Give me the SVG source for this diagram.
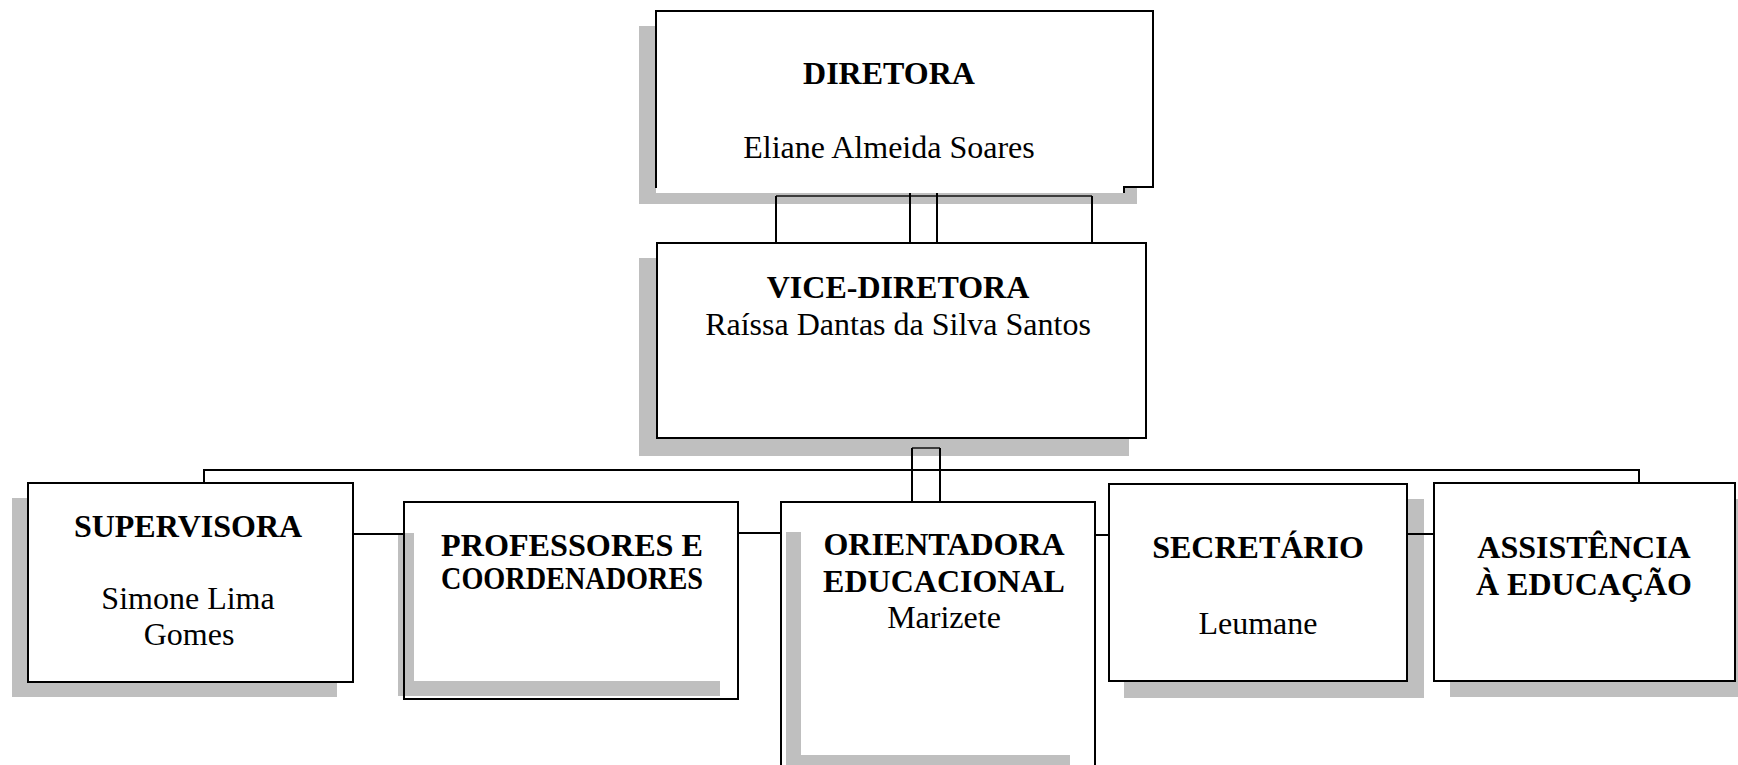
<svg xmlns="http://www.w3.org/2000/svg" width="1738" height="765" viewBox="0 0 1738 765">
<style>
.sh{fill:#bfbfbf}
.bx{fill:#fff;stroke:#000;stroke-width:2}
.wh{fill:#fff}
.ln{fill:none;stroke:#000;stroke-width:2}
.lg{fill:none;stroke:#3c3c3c;stroke-width:2}
text{font-family:"Liberation Serif","Times New Roman",serif;font-size:32px;text-anchor:middle;fill:#000}
.b{font-weight:bold}
</style>
<rect width="1738" height="765" fill="#fff"/>
<g id="diretora">
<rect class="sh" x="639" y="26" width="498" height="178"/>
<rect class="wh" x="656" y="11" width="468" height="182"/>
<rect class="wh" x="1120" y="11" width="33" height="176"/>
<path class="ln" d="M656,188 V11 H1153 V187 H1124 V193"/>
<text class="b" x="889" y="84">DIRETORA</text>
<text x="889" y="158">Eliane Almeida Soares</text>
</g>
<g id="vice-diretora">
<rect class="sh" x="639" y="258" width="490" height="198"/>
<rect class="bx" x="657" y="243" width="489" height="195"/>
<text class="b" x="898" y="298">VICE-DIRETORA</text>
<text x="898" y="335">Raíssa Dantas da Silva Santos</text>
</g>
<g id="supervisora">
<rect class="sh" x="12" y="498" width="325" height="199"/>
<rect class="bx" x="28" y="483" width="325" height="199"/>
<text class="b" x="188" y="537">SUPERVISORA</text>
<text x="188" y="609">Simone Lima</text>
<text x="189" y="645">Gomes</text>
</g>
<g id="professores">
<rect class="wh" x="404" y="502" width="334" height="197"/>
<rect class="sh" x="398" y="533" width="322" height="163"/>
<rect class="wh" x="414" y="503" width="323" height="178"/>
<rect class="ln" x="404" y="502" width="334" height="197"/>
<text class="b" x="572" y="556" font-size="27" textLength="262" lengthAdjust="spacingAndGlyphs">PROFESSORES E</text>
<text class="b" x="572" y="589" font-size="27" textLength="262" lengthAdjust="spacingAndGlyphs">COORDENADORES</text>
</g>
<g id="orientadora">
<rect class="wh" x="781" y="502" width="314" height="280"/>
<rect class="sh" x="786" y="532" width="284" height="250"/>
<rect class="wh" x="801" y="503" width="293" height="252"/>
<rect class="ln" x="781" y="502" width="314" height="280"/>
<text class="b" x="944" y="555">ORIENTADORA</text>
<text class="b" x="944" y="592">EDUCACIONAL</text>
<text x="944" y="628">Marizete</text>
</g>
<g id="secretario">
<rect class="sh" x="1124" y="499" width="300" height="199"/>
<rect class="bx" x="1109" y="484" width="298" height="197"/>
<text class="b" x="1258" y="558">SECRETÁRIO</text>
<text x="1258" y="634">Leumane</text>
</g>
<g id="assistencia">
<rect class="sh" x="1450" y="499" width="300" height="198"/>
<rect class="bx" x="1434" y="483" width="301" height="198"/>
<text class="b" x="1584" y="558">ASSISTÊNCIA</text>
<text class="b" x="1584" y="595">À EDUCAÇÃO</text>
</g>
<g id="connectors">
<path class="lg" d="M776,196 H1092"/>
<path class="ln" d="M776,196 V243 M1092,196 V243 M910,193 V243 M937,193 V243"/>
<path class="lg" d="M912,448 H940"/>
<path class="ln" d="M912,448 V502 M940,448 V502"/>
<path class="ln" d="M204,483 V470 H1639 V483"/>
<path class="ln" d="M353,534 H404 M738,533 H781 M1095,535 H1109 M1407,534 H1434"/>
</g>
</svg>
